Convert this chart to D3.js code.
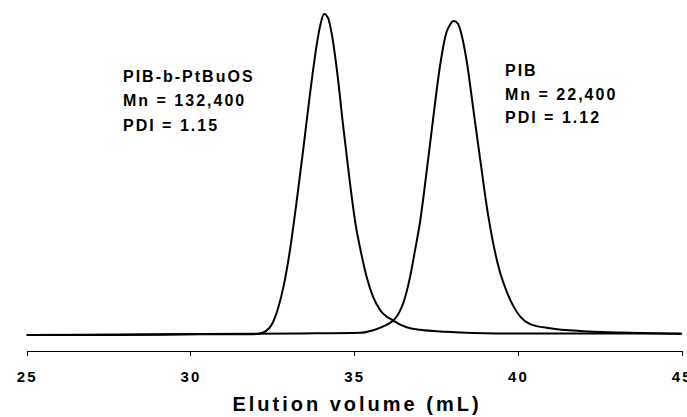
<!DOCTYPE html>
<html>
<head>
<meta charset="utf-8">
<script src="https://cdn.jsdelivr.net/npm/d3@7"></script>
<style>
    body { margin: 0; background: #ffffff; }
    svg { display: block; }
    text { font-family: "Liberation Sans", Arial, sans-serif; font-weight: bold; fill: #000; }
</style>
</head>
<body>
<div id="chart"></div>
<script>
// ========================= DATA ==================================

// elution volume (mL) / normalised detector signal, PIB-b-PtBuOS
const blockVolume = [25.0, 27.85, 30.29, 31.82, 32.12, 32.30, 32.48, 32.66, 32.84, 33.04, 33.24, 33.45, 33.65, 33.86, 33.96,
    34.08, 34.20, 34.32, 34.48, 34.66, 34.87, 35.05, 35.18, 35.38, 35.58, 35.79, 36.19, 36.60, 37.01, 37.82, 39.35, 42.51, 45.0];
const blockSignal = [0.0, 0.0, 0.002, 0.002, 0.005, 0.012, 0.032, 0.078, 0.150, 0.265, 0.414, 0.583, 0.751, 0.907, 0.963,
    1.0, 0.988, 0.935, 0.819, 0.654, 0.474, 0.340, 0.271, 0.181, 0.118, 0.078, 0.045, 0.024, 0.016, 0.010, 0.005, 0.005, 0.005];

// PIB precursor
const pibVolume = [25.0, 28.76, 33.34, 35.18, 35.58, 35.89, 36.19, 36.34, 36.50, 36.70, 36.86, 37.01, 37.21, 37.42, 37.62,
    37.82, 37.92, 38.04, 38.17, 38.29, 38.44, 38.64, 38.85, 39.05, 39.25, 39.45, 39.66, 39.86, 40.07, 40.37, 40.98, 41.99, 43.12, 45.0];
const pibSignal = [0.0, 0.002, 0.005, 0.007, 0.015, 0.027, 0.045, 0.064, 0.10, 0.178, 0.265, 0.352, 0.508, 0.682, 0.838,
    0.944, 0.966, 0.978, 0.969, 0.931, 0.850, 0.701, 0.545, 0.399, 0.283, 0.196, 0.134, 0.090, 0.057, 0.034, 0.021, 0.012, 0.008, 0.003];

const xTicks = [25, 30, 35, 40, 45];
const xTitle = 'Elution volume (mL)';

const blockLabel = ['PIB-b-PtBuOS', 'Mn = 132,400', 'PDI = 1.15'];
const pibLabel = ['PIB', 'Mn = 22,400', 'PDI = 1.12'];

// ========================= CHART ==================================

const width = 687;
const height = 417;

const svg = d3.select('#chart').append('svg')
    .attr('width', width)
    .attr('height', height);

svg.append('rect')
    .attr('width', width)
    .attr('height', height)
    .attr('fill', '#ffffff');

const x = d3.scaleLinear().domain([25, 45]).range([26.7, 681.7]);
const y = d3.scaleLinear().domain([0, 1]).range([335, 14]);

const axisY = 350.5;

const xAxis = d3.axisBottom(x)
    .tickValues(xTicks)
    .tickSize(5)
    .tickSizeOuter(0)
    .tickFormat(d3.format('d'));

const gx = svg.append('g')
    .attr('class', 'axis x')
    .attr('transform', `translate(0, ${axisY})`)
    .call(xAxis);

gx.select('.domain')
    .attr('stroke', '#000')
    .attr('stroke-width', 1)
    .attr('shape-rendering', 'crispEdges');

gx.selectAll('.tick line')
    .attr('stroke', '#000')
    .attr('shape-rendering', 'crispEdges');

gx.selectAll('.tick text')
    .attr('y', 31)
    .attr('dy', null)
    .attr('font-size', '15px')
    .attr('letter-spacing', '2px')
    .attr('font-family', null)
    .attr('fill', '#000');

svg.append('text')
    .attr('x', 357)
    .attr('y', 410.5)
    .attr('text-anchor', 'middle')
    .attr('font-size', '20px')
    .attr('letter-spacing', '3px')
    .text(xTitle);

const line = d3.line()
    .x(d => x(d[0]))
    .y(d => y(d[1]))
    .curve(d3.curveMonotoneX);

const series = [
    { name: 'block', values: d3.zip(blockVolume, blockSignal) },
    { name: 'pib', values: d3.zip(pibVolume, pibSignal) }
];

svg.append('g')
    .attr('class', 'lines')
    .selectAll('path')
    .data(series)
    .enter()
    .append('path')
    .attr('d', d => line(d.values))
    .attr('fill', 'none')
    .attr('stroke', '#000')
    .attr('stroke-width', 2);

const labels = [
    { lines: blockLabel, x: 123, y: [81.5, 106, 130.5] },
    { lines: pibLabel, x: 505, y: [76, 100, 123] }
];

labels.forEach(l => {
    svg.append('g')
        .selectAll('text')
        .data(l.lines)
        .enter()
        .append('text')
        .attr('x', l.x)
        .attr('y', (d, i) => l.y[i])
        .attr('font-size', '16px')
        .attr('letter-spacing', '2px')
        .text(d => d);
});
</script>
</body>
</html>
